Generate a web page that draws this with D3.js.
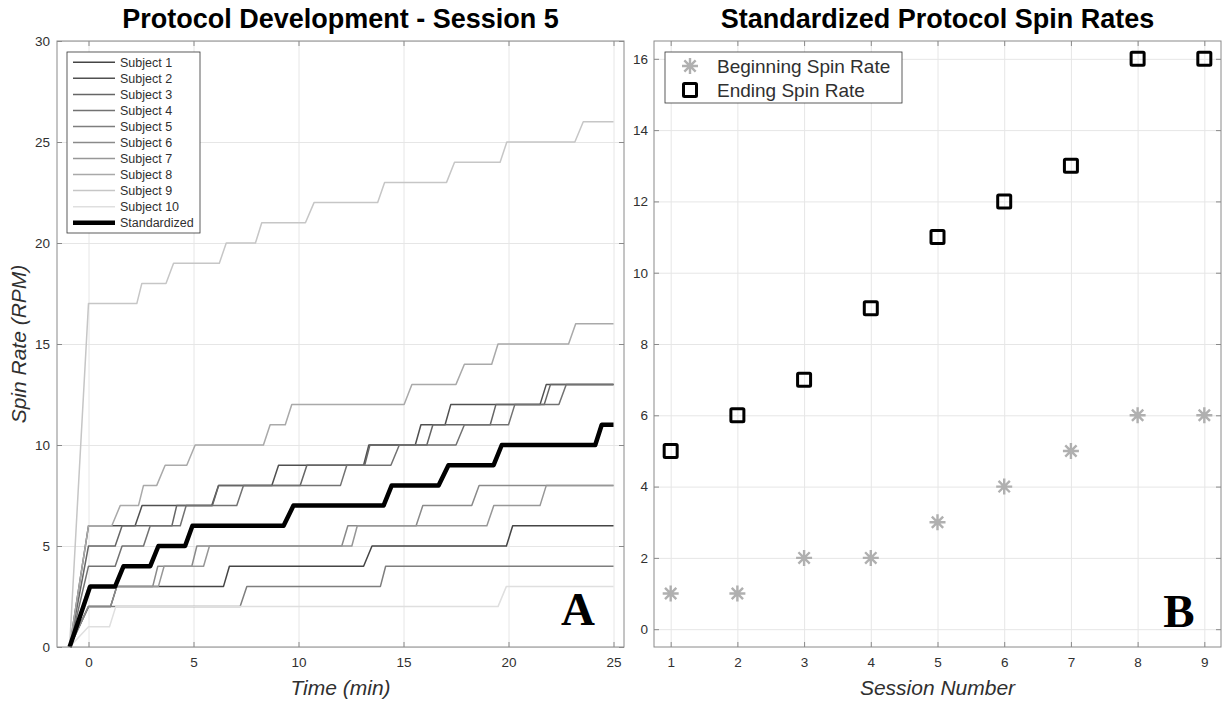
<!DOCTYPE html>
<html>
<head>
<meta charset="utf-8">
<script src="https://cdn.jsdelivr.net/npm/d3@7"></script>
<style>
  body { margin: 0; background: #fff; }
  svg text { font-family: "Liberation Sans", Arial, Helvetica, sans-serif; }
</style>
</head>
<body>
<svg id="fig" width="1225" height="702"></svg>
<script>
// ---- panel A : spin rate (RPM) vs time (min), vertices
const subject1 = [[-0.9,0],[0,2],[1.05,2],[1.35,3],[6.43,3],[6.71,4],[13.1,4],[13.5,5],[19.9,5],[20.2,6],[25,6]];
const subject2 = [[-0.9,0],[0,6],[2.22,6],[2.55,7],[5.87,7],[6.19,8],[8.73,8],[9.05,9],[13.1,9],[13.35,10],[15.56,10],[15.83,11],[16.98,11],[17.25,12],[21.5,12],[21.8,13],[25,13]];
const subject3 = [[-0.9,0],[0,5],[1.27,5],[1.6,6],[3.97,6],[4.2,7],[5.9,7],[6.2,8],[10.08,8],[10.4,9],[13.15,9],[13.4,10],[16.11,10],[16.4,11],[19.13,11],[19.4,12],[21.7,12],[22.0,13],[25,13]];
const subject4 = [[-0.9,0],[0,4],[1.27,4],[1.6,5],[2.62,5],[2.94,6],[4.37,6],[4.65,7],[7.06,7],[7.38,8],[12.0,8],[12.3,9],[14.4,9],[14.8,10],[17.5,10],[17.9,11],[20.0,11],[20.3,12],[22.4,12],[22.75,13],[25,13]];
const subject5 = [[-0.9,0],[0,2],[7.22,2],[7.54,3],[13.9,3],[14.15,4],[25,4]];
const subject6 = [[-0.9,0],[0,2],[1.05,2],[1.35,3],[3.06,3],[3.3,4],[4.92,4],[5.16,5],[12.06,5],[12.35,6],[15.6,6],[15.92,7],[18.25,7],[18.6,8],[25,8]];
const subject7 = [[-0.9,0],[0,3],[3.33,3],[3.6,4],[5.48,4],[5.76,5],[12.54,5],[12.8,6],[18.97,6],[19.3,7],[21.5,7],[21.8,8],[25,8]];
const subject8 = [[-0.9,0],[0,6],[1.11,6],[1.51,7],[2.38,7],[2.62,8],[3.25,8],[3.65,9],[4.68,9],[5.08,10],[8.33,10],[8.65,11],[9.37,11],[9.68,12],[15.03,12],[15.4,13],[17.5,13],[17.9,14],[19.2,14],[19.5,15],[22.86,15],[23.2,16],[25,16]];
const subject9 = [[-0.9,0],[0,17],[2.3,17],[2.54,18],[3.69,18],[4.05,19],[6.23,19],[6.56,20],[7.95,20],[8.25,21],[10.33,21],[10.74,22],[13.77,22],[14.1,23],[17.05,23],[17.43,24],[19.6,24],[19.92,25],[23.16,25],[23.56,26],[25,26]];
const subject10 = [[-0.9,0],[0,1],[1.0,1],[1.3,2],[19.5,2],[19.9,3],[25,3]];
const standardized = [[-0.9,0],[0.08,3],[1.27,3],[1.67,4],[2.94,4],[3.33,5],[4.6,5],[4.95,6],[9.29,6],[9.76,7],[14.05,7],[14.44,8],[16.67,8],[17.14,9],[19.29,9],[19.68,10],[24.13,10],[24.44,11],[25,11]];

const subjects = [subject1, subject2, subject3, subject4, subject5, subject6, subject7, subject8, subject9, subject10];
const subjectNames = subjects.map((d, i) => "Subject " + (i + 1));
const timeTicks = [0, 5, 10, 15, 20, 25];
const rpmTicks = [0, 5, 10, 15, 20, 25, 30];

// ---- panel B : spin rate per session
const sessions = [1, 2, 3, 4, 5, 6, 7, 8, 9];
const beginRate = [1, 1, 2, 2, 3, 4, 5, 6, 6];
const endRate = [5, 6, 7, 9, 11, 12, 13, 16, 16];
const sessionTicks = [1, 2, 3, 4, 5, 6, 7, 8, 9];
const rateTicks = [0, 2, 4, 6, 8, 10, 12, 14, 16];

const grays = ["#454545", "#505050", "#666666", "#727272", "#7e7e7e", "#8a8a8a", "#979797", "#a9a9a9", "#c6c6c6", "#dfdfdf"];
const txt = "#303030", boxCol = "#8a8a8a", gridCol = "#e6e6e6";

const svg = d3.select("#fig");

const xA = d3.scaleLinear().domain([-1.5, 25.5]).range([57, 624]);
const yA = d3.scaleLinear().domain([0, 30]).range([647, 41]);
const xB = d3.scaleLinear().domain([0.75, 9.25]).range([654, 1221]);
const yB = d3.scaleLinear().domain([-0.5, 16.5]).range([647, 41]);

// grid, box, mirrored inward ticks and labels, matlab style
function frame(x, y, xt, yt, ylabPad) {
  const [l, r] = x.range(), [b, t] = y.range();
  svg.append("g").attr("transform", `translate(0,${b})`)
    .call(d3.axisBottom(x).tickValues(xt).tickSize(-(b - t)).tickFormat(""))
    .call(g => { g.select(".domain").remove(); g.selectAll("line").attr("stroke", gridCol); });
  svg.append("g").attr("transform", `translate(${l},0)`)
    .call(d3.axisLeft(y).tickValues(yt).tickSize(-(r - l)).tickFormat(""))
    .call(g => { g.select(".domain").remove(); g.selectAll("line").attr("stroke", gridCol); });

  const styleAx = g => {
    g.select(".domain").remove();
    g.selectAll("line").attr("stroke", boxCol);
    g.selectAll("text").attr("fill", txt).style("font-size", "13.5px");
  };
  svg.append("g").attr("transform", `translate(0,${b})`)
    .call(d3.axisBottom(x).tickValues(xt).tickSizeInner(-5).tickSizeOuter(0).tickPadding(10)).call(styleAx);
  svg.append("g").attr("transform", `translate(0,${t})`)
    .call(d3.axisTop(x).tickValues(xt).tickSizeInner(-5).tickSizeOuter(0).tickFormat("")).call(styleAx);
  svg.append("g").attr("transform", `translate(${l},0)`)
    .call(d3.axisLeft(y).tickValues(yt).tickSizeInner(-5).tickSizeOuter(0).tickPadding(ylabPad)).call(styleAx);
  svg.append("g").attr("transform", `translate(${r},0)`)
    .call(d3.axisRight(y).tickValues(yt).tickSizeInner(-5).tickSizeOuter(0).tickFormat("")).call(styleAx);
}

function box(x, y) {
  const [l, r] = x.range(), [b, t] = y.range();
  svg.append("rect").attr("x", l).attr("y", t).attr("width", r - l).attr("height", b - t)
    .attr("fill", "none").attr("stroke", boxCol).attr("stroke-width", 1);
}

// ---------------- panel A
frame(xA, yA, timeTicks, rpmTicks, 7);

const line = d3.line().x(d => xA(d[0])).y(d => yA(d[1]));
svg.append("g").selectAll("path").data(subjects).join("path")
  .attr("d", line).attr("fill", "none")
  .attr("stroke", (d, i) => grays[i]).attr("stroke-width", 1.5).attr("stroke-linejoin", "round");
svg.append("path").datum(standardized).attr("d", line).attr("fill", "none")
  .attr("stroke", "#000").attr("stroke-width", 4.5).attr("stroke-linejoin", "round");
box(xA, yA);

// legend A
const legA = svg.append("g");
legA.append("rect").attr("x", 67).attr("y", 52).attr("width", 133).attr("height", 181)
  .attr("fill", "#fff").attr("stroke", "#333").attr("stroke-width", 0.8);
const legItems = subjectNames.map((n, i) => ({ name: n, col: grays[i], w: 1.5 }))
  .concat([{ name: "Standardized", col: "#000", w: 4.5 }]);
legItems.forEach((d, i) => {
  const yy = 62.3 + i * 16.04;
  legA.append("line").attr("x1", 73).attr("x2", 115).attr("y1", yy).attr("y2", yy)
    .attr("stroke", d.col).attr("stroke-width", d.w);
  legA.append("text").attr("x", 120).attr("y", yy).attr("dy", "0.35em")
    .style("font-size", "12.5px").attr("fill", txt).text(d.name);
});

// titles and labels A
svg.append("text").attr("x", 340.5).attr("y", 28).attr("text-anchor", "middle")
  .style("font-size", "27px").style("font-weight", "bold").attr("fill", "#000")
  .text("Protocol Development - Session 5");
svg.append("text").attr("x", 340.5).attr("y", 695).attr("text-anchor", "middle")
  .style("font-size", "21px").style("font-style", "italic").attr("fill", txt).text("Time (min)");
svg.append("text").attr("transform", "translate(26,344) rotate(-90)").attr("text-anchor", "middle")
  .style("font-size", "21px").style("font-style", "italic").attr("fill", txt).text("Spin Rate (RPM)");
svg.append("text").attr("x", 578).attr("y", 625).attr("text-anchor", "middle")
  .style("font-family", "'Liberation Serif', 'Times New Roman', serif").style("font-size", "47px")
  .style("font-weight", "bold").attr("fill", "#000").text("A");

// ---------------- panel B
frame(xB, yB, sessionTicks, rateTicks, 6);

function asterisk(r) {
  const k = r * Math.SQRT1_2;
  return `M${-r},0L${r},0M0,${-r}L0,${r}M${-k},${-k}L${k},${k}M${-k},${k}L${k},${-k}`;
}
const starCol = "#b0b0b0";
svg.append("g").selectAll("path").data(sessions).join("path")
  .attr("transform", (d, i) => `translate(${xB(d)},${yB(beginRate[i])})`)
  .attr("d", asterisk(8)).attr("fill", "none").attr("stroke", starCol).attr("stroke-width", 2.4);
svg.append("g").selectAll("rect").data(sessions).join("rect")
  .attr("x", d => xB(d) - 6.5).attr("y", (d, i) => yB(endRate[i]) - 6.5)
  .attr("width", 13).attr("height", 13).attr("rx", 1)
  .attr("fill", "none").attr("stroke", "#000").attr("stroke-width", 3);
box(xB, yB);

// legend B
const legB = svg.append("g");
legB.append("rect").attr("x", 665).attr("y", 52).attr("width", 237).attr("height", 51)
  .attr("fill", "#fff").attr("stroke", "#333").attr("stroke-width", 0.8);
legB.append("path").attr("transform", "translate(690,66)").attr("d", asterisk(8))
  .attr("fill", "none").attr("stroke", starCol).attr("stroke-width", 2.4);
legB.append("rect").attr("x", 683.5).attr("y", 83.5).attr("width", 13).attr("height", 13).attr("rx", 1)
  .attr("fill", "none").attr("stroke", "#000").attr("stroke-width", 3);
[["Beginning Spin Rate", 66], ["Ending Spin Rate", 90]].forEach(([t, yy]) => {
  legB.append("text").attr("x", 717).attr("y", yy).attr("dy", "0.35em")
    .style("font-size", "19px").attr("fill", txt).text(t);
});

svg.append("text").attr("x", 937.5).attr("y", 28).attr("text-anchor", "middle")
  .style("font-size", "27px").style("font-weight", "bold").attr("fill", "#000")
  .text("Standardized Protocol Spin Rates");
svg.append("text").attr("x", 937.5).attr("y", 695).attr("text-anchor", "middle")
  .style("font-size", "21px").style("font-style", "italic").attr("fill", txt).text("Session Number");
svg.append("text").attr("x", 1179).attr("y", 627).attr("text-anchor", "middle")
  .style("font-family", "'Liberation Serif', 'Times New Roman', serif").style("font-size", "47px")
  .style("font-weight", "bold").attr("fill", "#000").text("B");
</script>
</body>
</html>
